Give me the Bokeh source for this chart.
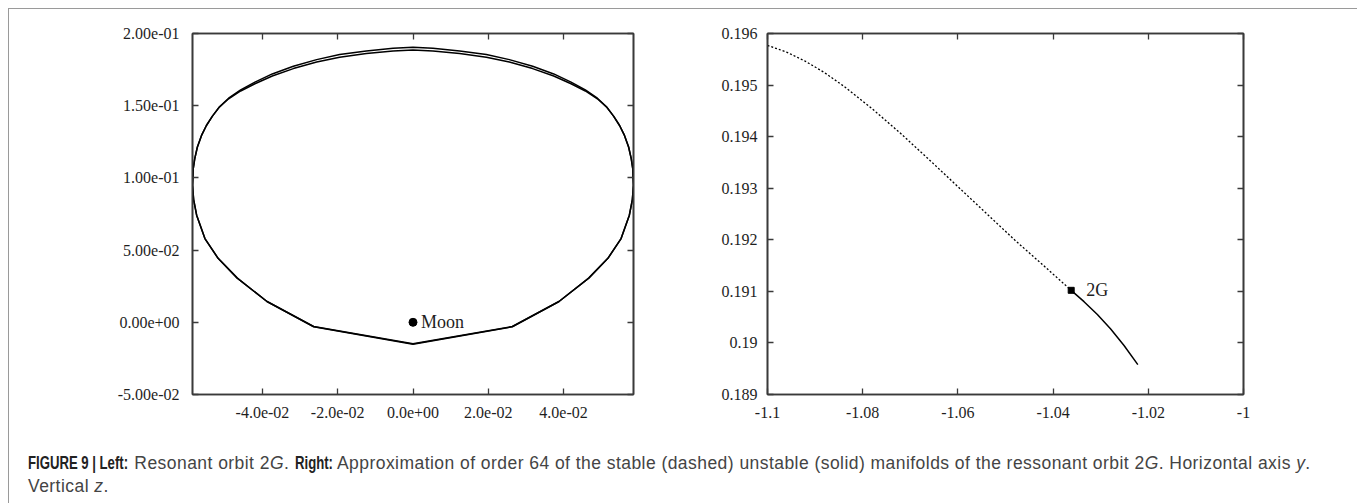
from bokeh.plotting import figure
from bokeh.models import Range1d, FixedTicker, LinearAxis, Div, CustomJSTickFormatter, ColumnDataSource
from bokeh.layouts import column, row
from bokeh.embed import file_html
from bokeh.resources import INLINE
from bokeh.core.properties import value

# ---------------- data ----------------
# Left panel: resonant orbit 2G (two nearly overlapping revolutions)
orbit_x = [0.0, -0.0264, -0.0388, -0.0467, -0.0518, -0.0553, -0.0575, -0.0583, -0.0586,
           -0.0584, -0.0580, -0.0573, -0.0562, -0.0549, -0.0533, -0.0515, -0.0490, -0.0458,
           -0.0420, -0.0374, -0.0318, -0.0256, -0.0195, -0.0124, -0.0053, 0.0,
           0.0053, 0.0124, 0.0195, 0.0256, 0.0318, 0.0374, 0.0420, 0.0458, 0.0490,
           0.0515, 0.0533, 0.0549, 0.0562, 0.0573, 0.0580, 0.0584, 0.0586, 0.0583,
           0.0575, 0.0553, 0.0518, 0.0467, 0.0388, 0.0264, 0.0]
orbit_y_outer = [-0.0148, -0.0029, 0.0144, 0.0306, 0.0443, 0.0580, 0.0742, 0.0850, 0.0949,
                 0.1064, 0.1133, 0.1214, 0.1294, 0.1363, 0.1428, 0.1490, 0.1552, 0.1610,
                 0.1663, 0.1720, 0.1773, 0.1819, 0.1854, 0.1879, 0.1898, 0.1905,
                 0.1898, 0.1879, 0.1854, 0.1819, 0.1773, 0.1720, 0.1663, 0.1610, 0.1552,
                 0.1490, 0.1428, 0.1363, 0.1294, 0.1214, 0.1133, 0.1064, 0.0949, 0.0850,
                 0.0742, 0.0580, 0.0443, 0.0306, 0.0144, -0.0029, -0.0148]
orbit_y_inner = [-0.0152, -0.0031, 0.0144, 0.0306, 0.0443, 0.0580, 0.0742, 0.0850, 0.0949,
                 0.1064, 0.1133, 0.1214, 0.1294, 0.1363, 0.1428, 0.1489, 0.1548, 0.1602,
                 0.1652, 0.1706, 0.1757, 0.1802, 0.1836, 0.1861, 0.1879, 0.1886,
                 0.1879, 0.1861, 0.1836, 0.1802, 0.1757, 0.1706, 0.1652, 0.1602, 0.1548,
                 0.1489, 0.1428, 0.1363, 0.1294, 0.1214, 0.1133, 0.1064, 0.0949, 0.0850,
                 0.0742, 0.0580, 0.0443, 0.0306, 0.0144, -0.0031, -0.0152]
moon_x = [0.0]
moon_y = [0.0]
moon_label = ["Moon"]

left_x_ticks = [-0.04, -0.02, 0.0, 0.02, 0.04]
left_x_labels = ["-4.0e-02", "-2.0e-02", "0.0e+00", "2.0e-02", "4.0e-02"]
left_y_ticks = [-0.05, 0.0, 0.05, 0.1, 0.15, 0.2]
left_y_labels = ["-5.00e-02", "0.00e+00", "5.00e-02", "1.00e-01", "1.50e-01", "2.00e-01"]

# Right panel: stable (dotted) and unstable (solid) manifolds of 2G
stable_x = [-1.1000, -1.0960, -1.0920, -1.0880, -1.0840, -1.0780, -1.0720, -1.0660,
            -1.0600, -1.0540, -1.0480, -1.0420, -1.0362]
stable_y = [0.19577, 0.19564, 0.19546, 0.19524, 0.19498, 0.19454, 0.19406, 0.19355,
            0.19303, 0.19251, 0.19199, 0.19150, 0.19102]
unstable_x = [-1.0362, -1.0335, -1.0307, -1.0279, -1.0251, -1.0222]
unstable_y = [0.19102, 0.19080, 0.19055, 0.19027, 0.18995, 0.18958]
point_x = [-1.0362]
point_y = [0.19102]
point_label = ["2G"]

right_x_ticks = [-1.1, -1.08, -1.06, -1.04, -1.02, -1.0]
right_x_labels = ["-1.1", "-1.08", "-1.06", "-1.04", "-1.02", "-1"]
right_y_ticks = [0.189, 0.19, 0.191, 0.192, 0.193, 0.194, 0.195, 0.196]
right_y_labels = ["0.189", "0.19", "0.191", "0.192", "0.193", "0.194", "0.195", "0.196"]

# ---------------- styling ----------------
SERIF = "Liberation Serif"
AX = "#3a3a3a"
TXT = "#1e1e1e"


def style_axis(ax, ticks, labels, standoff):
    ax.ticker = FixedTicker(ticks=ticks)
    if labels is None:
        ax.formatter = CustomJSTickFormatter(code="return ''")
    else:
        ax.major_label_overrides = dict(zip(ticks, labels))
    ax.major_tick_in = 6
    ax.major_tick_out = 0
    ax.minor_tick_in = 0
    ax.minor_tick_out = 0
    ax.major_tick_line_color = AX
    ax.major_tick_line_width = 1.3
    ax.axis_line_color = AX
    ax.axis_line_width = 1.6
    ax.major_label_text_font = SERIF
    ax.major_label_text_font_size = "16px"
    ax.major_label_text_color = TXT
    ax.major_label_standoff = standoff


def make_fig(width, xr, yr, bl, br):
    p = figure(width=width, height=430, x_range=xr, y_range=yr,
               output_backend="svg", toolbar_location=None,
               min_border_left=bl, min_border_right=br,
               min_border_top=24, min_border_bottom=45)
    p.grid.visible = False
    p.outline_line_color = AX
    p.outline_line_width = 1.6
    p.background_fill_color = "white"
    p.border_fill_color = "white"
    return p


# Left figure
p1 = make_fig(680, Range1d(-0.0586, 0.0586), Range1d(-0.05, 0.2), 183, 56)
style_axis(p1.xaxis[0], left_x_ticks, left_x_labels, 12)
style_axis(p1.yaxis[0], left_y_ticks, left_y_labels, 13)
top1 = LinearAxis()
style_axis(top1, left_x_ticks, None, 0)
p1.add_layout(top1, "above")
right1 = LinearAxis()
style_axis(right1, left_y_ticks, None, 0)
p1.add_layout(right1, "right")

p1.line(orbit_x, orbit_y_outer, line_color="black", line_width=1.5)
p1.line(orbit_x, orbit_y_inner, line_color="black", line_width=1.5)
moon_src = ColumnDataSource(dict(x=moon_x, y=moon_y, t=moon_label))
p1.scatter("x", "y", source=moon_src, size=8, color="black")
p1.text("x", "y", text="t", source=moon_src, x_offset=8, text_align="left",
        text_baseline="middle", text_font=value(SERIF), text_font_size="18px",
        text_color=TXT)

# Right figure
p2 = make_fig(664, Range1d(-1.1, -1.0), Range1d(0.189, 0.196), 78, 110)
style_axis(p2.xaxis[0], right_x_ticks, right_x_labels, 12)
style_axis(p2.yaxis[0], right_y_ticks, right_y_labels, 10)
top2 = LinearAxis()
style_axis(top2, right_x_ticks, None, 0)
p2.add_layout(top2, "above")
right2 = LinearAxis()
style_axis(right2, right_y_ticks, None, 0)
p2.add_layout(right2, "right")

p2.line(stable_x, stable_y, line_color="black", line_width=1.3, line_dash="2 2")
p2.line(unstable_x, unstable_y, line_color="black", line_width=1.5)
pt_src = ColumnDataSource(dict(x=point_x, y=point_y, t=point_label))
p2.scatter("x", "y", source=pt_src, marker="square", size=6, color="black")
p2.text("x", "y", text="t", source=pt_src, x_offset=15, text_align="left",
        text_baseline="middle", text_font=value(SERIF), text_font_size="18px",
        text_color=TXT)

# Caption (bold run-in heads are condensed in the reference)
def head(txt, w):
    return ('<span style="display:inline-block;width:%dpx;white-space:nowrap;letter-spacing:0;'
            'transform:scaleX(0.73);transform-origin:0 50%%;font-weight:bold;'
            'font-size:18px;color:#222;">%s</span>' % (w, txt))


caption = (
    '<div style="padding:8px 0 0 14px;white-space:nowrap;font-family:\'Liberation Sans\',sans-serif;'
    'font-size:17.5px;letter-spacing:0.45px;line-height:23px;color:#444;">'
    + head("FIGURE 9 | Left:", 101) + ' Resonant orbit 2<i>G</i>. '
    + head("Right:", 38) + ' Approximation of order 64 of the stable (dashed) unstable (solid) '
    'manifolds of the ressonant orbit 2<i>G</i>. Horizontal axis <i>y</i>.<br>Vertical <i>z</i>.'
    '</div>'
)
cap = Div(text=caption, width=1344, height=56)

layout = column(row(p1, p2), cap,
                styles={"border-top": "1px solid #9a9a9a", "border-left": "1px solid #9a9a9a",
                        "border-right": "1px solid #9a9a9a", "background": "white",
                        "margin-top": "8px", "margin-left": "8px"})

open("out.html", "w").write(file_html(layout, INLINE))
